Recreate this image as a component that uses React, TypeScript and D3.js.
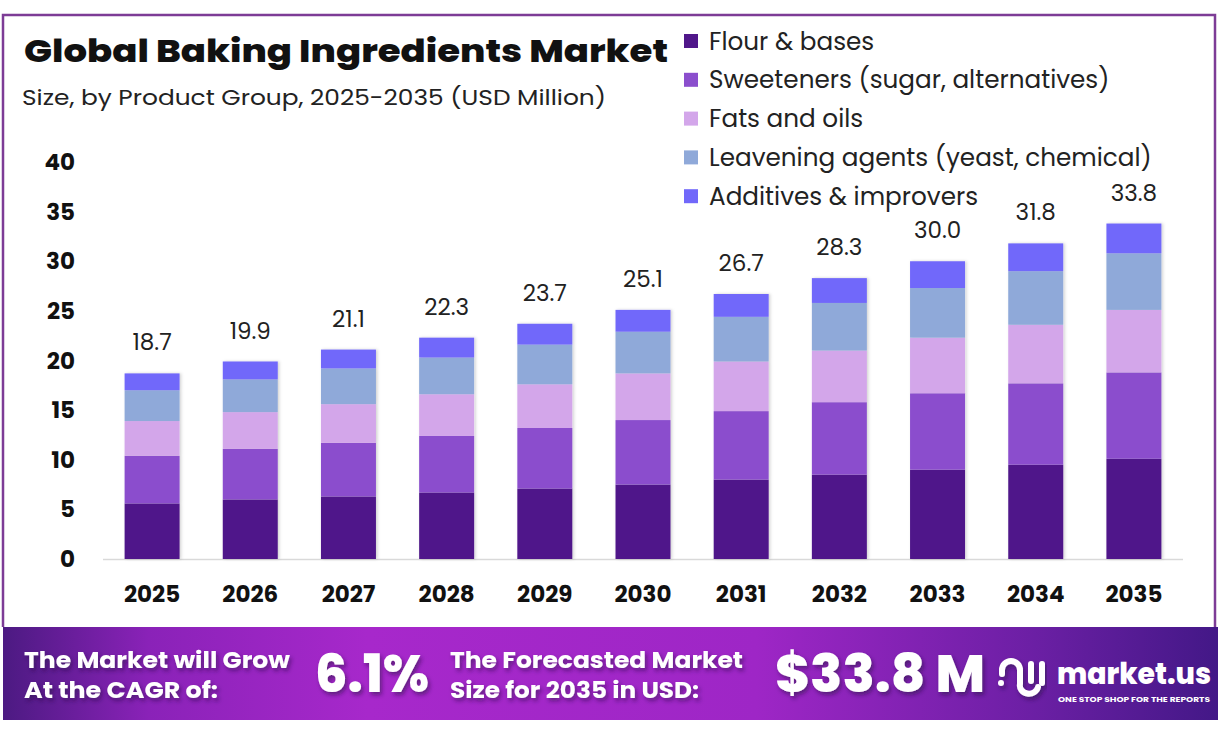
import React, { useLayoutEffect } from "react";
import * as d3 from "d3";

const years = ["2025", "2026", "2027", "2028", "2029", "2030", "2031", "2032", "2033", "2034", "2035"];
const totals = [18.7, 19.9, 21.1, 22.3, 23.7, 25.1, 26.7, 28.3, 30.0, 31.8, 33.8];

const seriesNames = [
  "Flour & bases",
  "Sweeteners (sugar, alternatives)",
  "Fats and oils",
  "Leavening agents (yeast, chemical)",
  "Additives & improvers",
];
const seriesColors = ["#50178a", "#8b4ecd", "#d3a6ea", "#8fa9d9", "#7168fa"];

const flour = [5.6, 6.0, 6.3, 6.7, 7.1, 7.5, 8.0, 8.5, 9.0, 9.5, 10.1];
const sweeteners = [4.8, 5.1, 5.4, 5.7, 6.1, 6.5, 6.9, 7.3, 7.7, 8.2, 8.7];
const fats = [3.5, 3.7, 3.9, 4.2, 4.4, 4.7, 5.0, 5.2, 5.6, 5.9, 6.3];
const leavening = [3.1, 3.3, 3.6, 3.7, 4.0, 4.2, 4.5, 4.8, 5.0, 5.4, 5.7];
const additives = [1.7, 1.8, 1.9, 2.0, 2.1, 2.2, 2.3, 2.5, 2.7, 2.8, 3.0];

const yTicks = [0, 5, 10, 15, 20, 25, 30, 35, 40];

const W = 1223;
const H = 738;
const FONT = "Poppins, Inter, 'Noto Sans', sans-serif";

const App = () => {
  useLayoutEffect(() => {
    document.body.style.margin = "0";
  }, []);

  const rows = years.map((year, i) => ({
    year,
    s0: flour[i],
    s1: sweeteners[i],
    s2: fats[i],
    s3: leavening[i],
    s4: additives[i],
  }));
  const keys = ["s0", "s1", "s2", "s3", "s4"];
  const stacked = d3.stack<any>().keys(keys)(rows);

  const x = d3.scaleBand().domain(years).range([103, 1183]).paddingInner(0.44).paddingOuter(0.22);
  const y = d3.scaleLinear().domain([0, 40]).range([559, 162]);

  return (
    <svg width={W} height={H} style={{ display: "block", fontFamily: FONT }}>
      <defs>
        <linearGradient id="banner" x1="0" x2="1" y1="0" y2="0">
          <stop offset="0" stopColor="#4c1a82" />
          <stop offset="0.12" stopColor="#8a22b8" />
          <stop offset="0.3" stopColor="#a728cb" />
          <stop offset="0.62" stopColor="#9e26c6" />
          <stop offset="0.85" stopColor="#6b1fa4" />
          <stop offset="1" stopColor="#431887" />
        </linearGradient>
        <filter id="barShadow" x="-20%" y="-5%" width="140%" height="110%">
          <feDropShadow dx="1.5" dy="0" stdDeviation="1.5" floodColor="#000" floodOpacity="0.18" />
        </filter>
        <filter id="textShadow" x="-10%" y="-20%" width="120%" height="150%">
          <feDropShadow dx="2" dy="3" stdDeviation="2" floodColor="#2a0845" floodOpacity="0.55" />
        </filter>
      </defs>

      <rect x={0} y={0} width={W} height={H} fill="#ffffff" />

      {/* frame */}
      <path d="M3,627 L3,15 L1215,15 L1215,627" fill="none" stroke="#7d3c96" strokeWidth={2.5} />

      {/* title */}
      <text x={24} y={62} fontSize={31} fontWeight={800} fill="#111" textLength={644} lengthAdjust="spacingAndGlyphs">
        Global Baking Ingredients Market
      </text>
      <text x={22} y={105} fontSize={22} fill="#222" textLength={584} lengthAdjust="spacingAndGlyphs">
        Size, by Product Group, 2025-2035 (USD Million)
      </text>

      {/* legend */}
      {seriesNames.map((name, i) => (
        <g key={name} transform={`translate(684, ${41 + i * 38.8})`}>
          <rect x={0} y={-7} width={14} height={14} fill={seriesColors[i]} />
          <text x={25} y={0} dy="0.35em" fontSize={24.7} fill="#222">
            {name}
          </text>
        </g>
      ))}

      {/* y axis labels */}
      {yTicks.map((t) => (
        <text key={t} x={75} y={y(t)} dy="0.35em" textAnchor="end" fontSize={23} fontWeight={700} fill="#111">
          {t}
        </text>
      ))}

      {/* baseline */}
      <line x1={103} x2={1183} y1={y(0) + 0.5} y2={y(0) + 0.5} stroke="#d9d9d9" strokeWidth={1.5} />

      {/* bars */}
      <g filter="url(#barShadow)">
        {stacked.map((layer, li) =>
          layer.map((d: any) => (
            <rect
              key={`${li}-${d.data.year}`}
              x={x(d.data.year)}
              y={y(d[1])}
              width={x.bandwidth()}
              height={y(d[0]) - y(d[1])}
              fill={seriesColors[li]}
            />
          ))
        )}
      </g>

      {/* totals */}
      {years.map((yr, i) => (
        <text
          key={yr}
          x={(x(yr) ?? 0) + x.bandwidth() / 2}
          y={y(totals[i]) - 31}
          dy="0.35em"
          textAnchor="middle"
          fontSize={23}
          fill="#222"
        >
          {totals[i].toFixed(1)}
        </text>
      ))}

      {/* x axis labels */}
      {years.map((yr) => (
        <text
          key={yr}
          x={(x(yr) ?? 0) + x.bandwidth() / 2}
          y={594}
          dy="0.35em"
          textAnchor="middle"
          fontSize={23}
          fontWeight={700}
          fill="#111"
        >
          {yr}
        </text>
      ))}

      {/* banner */}
      <rect x={3} y={627} width={1215} height={93} fill="url(#banner)" />
      <g fill="#fff" fontWeight={700} filter="url(#textShadow)">
        <text x={24} y={668} fontSize={22} textLength={266} lengthAdjust="spacingAndGlyphs">
          The Market will Grow
        </text>
        <text x={24} y={698} fontSize={22} textLength={194} lengthAdjust="spacingAndGlyphs">
          At the CAGR of:
        </text>
        <text x={315} y={692} fontSize={52} fontWeight={800} textLength={114} lengthAdjust="spacingAndGlyphs">
          6.1%
        </text>
        <text x={450} y={668} fontSize={22} textLength={293} lengthAdjust="spacingAndGlyphs">
          The Forecasted Market
        </text>
        <text x={450} y={698} fontSize={22} textLength={249} lengthAdjust="spacingAndGlyphs">
          Size for 2035 in USD:
        </text>
        <text x={775} y={692} fontSize={52} fontWeight={800} textLength={210} lengthAdjust="spacingAndGlyphs">
          $33.8 M
        </text>
      </g>

      {/* logo */}
      <g filter="url(#textShadow)">
        <g fill="none" stroke="#fff" strokeWidth={6} strokeLinecap="round">
          <path d="M1002,674 L1002,670 a9,9 0 0 1 18,0 L1020,684 a9,8 0 0 0 18,3" />
          <line x1={1031} y1={664} x2={1031} y2={681} />
          <line x1={1042} y1={664} x2={1042} y2={683} />
        </g>
        <circle cx={1001} cy={683} r={3} fill="#fff" />
      </g>
      <text x={1057} y={684} fontSize={29} fontWeight={800} fill="#fff" textLength={154} lengthAdjust="spacingAndGlyphs">
        market.us
      </text>
      <text x={1058} y={702} fontSize={7} fontWeight={700} fill="#fff" textLength={152} lengthAdjust="spacingAndGlyphs">
        ONE STOP SHOP FOR THE REPORTS
      </text>
    </svg>
  );
};

export default App;
